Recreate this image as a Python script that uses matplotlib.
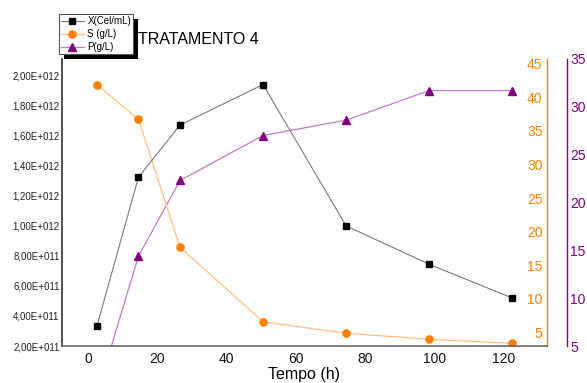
import matplotlib
matplotlib.use("Agg")
import matplotlib.pyplot as plt
from matplotlib.ticker import FuncFormatter
from matplotlib.patches import Rectangle
import numpy as np

plt.rcParams['font.family'] = ['Liberation Sans', 'DejaVu Sans']

# Fermentation time (h)
tempo = [2.5, 14.5, 26.5, 50.5, 74.5, 98.5, 122.5]
# Cell concentration X (cells/mL)
x_cel = [3.34e11, 1.324e12, 1.67e12, 1.94e12, 1.00e12, 7.44e11, 5.20e11]
# Substrate S (g/L)
s_gl = [41.9, 36.7, 17.7, 6.6, 4.9, 4.0, 3.4]
# Product P (g/L)
p_gl = [0.0, 14.4, 22.3, 27.0, 28.6, 31.7, 31.7]

x_ticks = [0, 20, 40, 60, 80, 100, 120]
x_ticks_left = np.arange(2e11, 2.01e12, 2e11)
s_ticks = [5, 10, 15, 20, 25, 30, 35, 40, 45]
p_ticks = [5, 10, 15, 20, 25, 30, 35]

ORANGE = '#FF8000'
ORANGE_LINE = '#FFBE80'
PURPLE = '#800080'
PURPLE_LINE = '#C47CC4'

fig = plt.figure(figsize=(5.87, 3.83), dpi=100)
ax = fig.add_axes([0.1051, 0.0966, 0.8262, 0.7494])


def sci_comma(v, pos):
    if v == 0:
        return "0"
    e = int(np.floor(np.log10(abs(v)) + 1e-9))
    m = v / 10 ** e
    return f"{m:.2f}".replace('.', ',') + f"E+{e:03d}"


# X on the left axis
lx, = ax.plot(tempo, x_cel, color='#7a7a7a', lw=0.8, marker='s', ms=4.8,
              mfc='black', mec='black', label='X(Cel/mL)', zorder=5)
ax.set_xlim(-7.7, 132.5)
ax.set_ylim(2e11, 2.11e12)
ax.set_xticks(x_ticks)
ax.set_yticks(x_ticks_left)
ax.yaxis.set_major_formatter(FuncFormatter(sci_comma))
ax.tick_params(axis='y', length=0, pad=1.5, labelsize=7, labelcolor='#222222')
ax.tick_params(axis='x', length=0, pad=4, labelsize=10, labelcolor='#111111')
ax.set_xlabel('Tempo (h)', fontsize=11.5, labelpad=1)
for s in ['top', 'right']:
    ax.spines[s].set_visible(False)
ax.spines['left'].set_color('#333333')
ax.spines['left'].set_linewidth(1.2)
ax.spines['bottom'].set_color('#666666')
ax.spines['bottom'].set_linewidth(1.2)

# S on an axis drawn at the right edge, labels inside
ax2 = ax.twinx()
ls, = ax2.plot(tempo, s_gl, color=ORANGE_LINE, lw=0.9, marker='o', ms=5.2,
               mfc=ORANGE, mec=ORANGE, label='S (g/L)', zorder=4)
ax2.set_ylim(3.0, 45.7)
ax2.set_yticks(s_ticks)
for s in ['top', 'right', 'bottom']:
    ax2.spines[s].set_visible(False)
ax2.spines['left'].set_position(('axes', 1.0))
ax2.spines['left'].set_color(ORANGE)
ax2.spines['left'].set_linewidth(1.0)
ax2.yaxis.set_ticks_position('left')
ax2.tick_params(axis='y', length=0, pad=3, labelsize=10, labelcolor=ORANGE)

# P on an offset axis further right
ax3 = ax.twinx()
lp, = ax3.plot(tempo, p_gl, color=PURPLE_LINE, lw=0.9, marker='^', ms=6,
               mfc=PURPLE, mec=PURPLE, label='P(g/L)', zorder=3)
ax3.set_ylim(5, 35)
ax3.set_yticks(p_ticks)
for s in ['top', 'left', 'bottom']:
    ax3.spines[s].set_visible(False)
ax3.spines['right'].set_position(('axes', 1.0412))
ax3.spines['right'].set_color(PURPLE)
ax3.spines['right'].set_linewidth(1.0)
ax3.tick_params(axis='y', length=0, pad=2.5, labelsize=10, labelcolor=PURPLE)

ax.set_zorder(3)
ax.patch.set_visible(False)
ax2.set_zorder(2)
ax3.set_zorder(1)

fig.text(0.235, 0.8956, 'TRATAMENTO 4', fontsize=11.5, ha='left', va='center')

leg = fig.legend(handles=[lx, ls, lp], loc='upper left',
                 bbox_to_anchor=(0.101, 0.9627), bbox_transform=fig.transFigure,
                 fontsize=7, frameon=True, fancybox=False, framealpha=1,
                 borderpad=0.2, labelspacing=0.3, handlelength=2.3,
                 handletextpad=0.4, borderaxespad=0, markerscale=1.0)
leg.get_frame().set_edgecolor('#555555')
leg.get_frame().set_facecolor('white')
leg.get_frame().set_linewidth(0.8)
leg.set_zorder(10)

# solid drop shadow behind the legend box
fig.canvas.draw()
bb = leg.get_window_extent()
shadow = Rectangle((bb.x0 + 4.5, bb.y0 - 4.5), bb.width, bb.height,
                   transform=None, facecolor='black', edgecolor='none', zorder=9)
fig.patches.append(shadow)

fig.savefig('out.png', dpi=100)
